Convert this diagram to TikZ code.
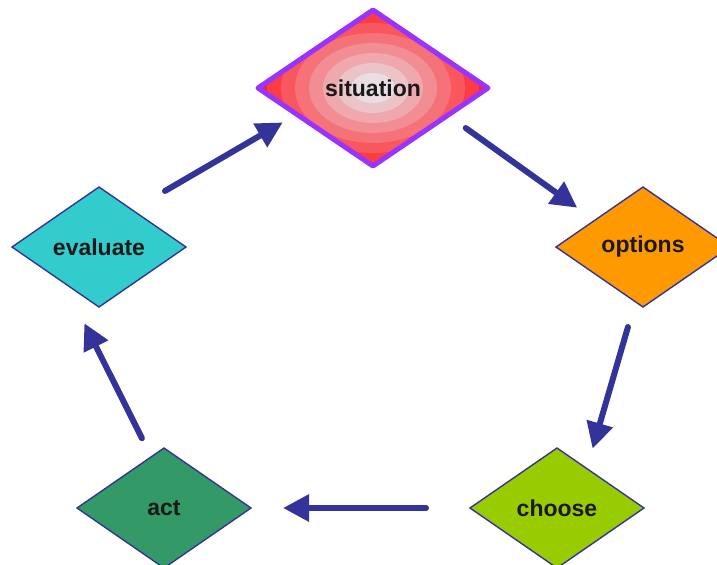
\documentclass[tikz,border=0pt]{standalone}
\usepackage{fontspec}
\setmainfont{Liberation Sans}
\usetikzlibrary{shapes.geometric,arrows.meta}

\definecolor{flowblue}{RGB}{51,51,153}
\definecolor{sitpurple}{RGB}{153,51,255}
\definecolor{evalcyan}{RGB}{51,204,204}
\definecolor{optorange}{RGB}{255,153,0}
\definecolor{actgreen}{RGB}{51,153,102}
\definecolor{chooselime}{RGB}{153,204,0}

\tikzset{
    stage/.style={diamond, draw=flowblue, line width=0.7pt,
        minimum width=87pt, minimum height=60pt, inner sep=0pt, outer sep=0pt,
        font=\bfseries\fontsize{11.5}{13}\selectfont, text=black!90},
    flow/.style={draw=flowblue, line width=3pt, line cap=round,
        -{Triangle[length=13pt,width=13pt]}},
    rings/.style={path picture={
        \foreach \k in {8,...,0}{
            \pgfmathtruncatemacro\r{233+3*\k}
            \pgfmathtruncatemacro\g{222-27*\k}
            \pgfmathtruncatemacro\b{228-27*\k}
            \fill[color={rgb,255:red,\r;green,\g;blue,\b}]
                (path picture bounding box.center)
                ellipse [x radius={(22+14*\k)*0.5pt}, y radius={(15+10*\k)*0.5pt}];
        }}}
}

\begin{document}
\begin{tikzpicture}[x=0.5pt, y=-0.5pt]
    \useasboundingbox (0,0) rectangle (717,564);

    % the five stages
    \node[stage, rings, draw=sitpurple, line width=2.5pt, line join=round,
          minimum width=115pt, minimum height=78pt] (situation) at (373,88) {situation};
    \node[stage, fill=optorange] (options) at (643,247) {options};
    \node[stage, fill=chooselime] (choose) at (557,508) {choose};
    \node[stage, fill=actgreen] (act) at (164,508) {act};
    \node[stage, fill=evalcyan] (evaluate) at (99,247) {evaluate};

    % the cycle
    \draw[flow, shorten <=11pt, shorten >=10.8pt] (situation.340) -- (options.151);
    \draw[flow, shorten <=13.2pt, shorten >=10.4pt] (options.262) -- (choose.53);
    \draw[flow, shorten <=22pt, shorten >=16pt] (choose.west) -- (act.east);
    \draw[flow, shorten <=10.4pt, shorten >=22.5pt] (act.104) -- (evaluate.226);
    \draw[flow, shorten <=18.9pt, shorten >=8.1pt] (evaluate.48) -- (situation.199);
\end{tikzpicture}
\end{document}
